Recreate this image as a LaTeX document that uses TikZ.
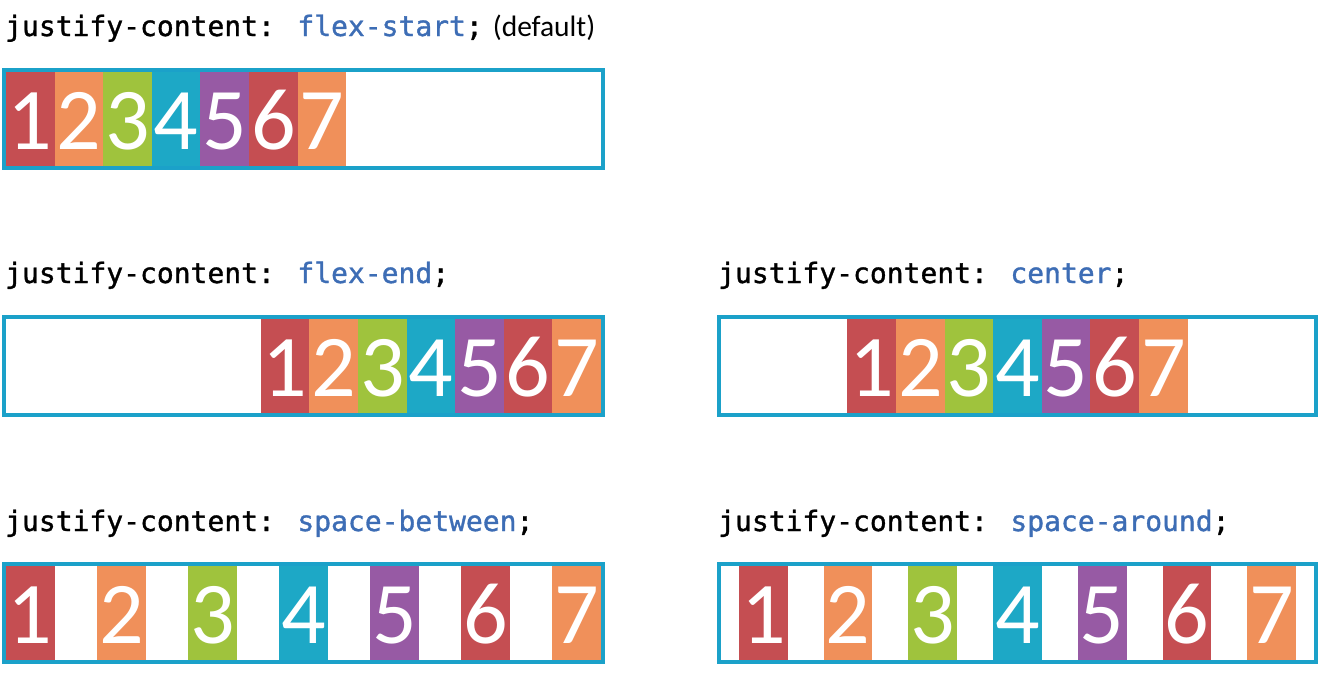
\documentclass[tikz,border=0pt]{standalone}
\usepackage{fontspec}
\newfontfamily\codefont[FakeBold=1.2]{DejaVu Sans Mono}
\newfontfamily\numfont{Carlito}
\definecolor{cRed}{HTML}{C54E52}
\definecolor{cOrange}{HTML}{F0905A}
\definecolor{cGreen}{HTML}{9FC33D}
\definecolor{cTeal}{HTML}{1DA8C6}
\definecolor{cPurple}{HTML}{975AA4}
\definecolor{cBorder}{HTML}{1BA1C9}
\definecolor{cValue}{HTML}{3D6DB5}
\begin{document}
\begin{tikzpicture}[x=1pt,y=-1pt,
  item/.style={anchor=north west, inner sep=0pt, outer sep=0pt,
    minimum width=48.6pt, text height=77pt, text depth=17pt,
    text=white, font=\numfont\fontsize{88}{88}\selectfont},
  flexbox/.style={draw=cBorder, line width=4pt, anchor=north west,
    inner sep=0pt, outer sep=0pt, minimum height=98pt},
  leftbox/.style={flexbox, minimum width=599pt},
  rightbox/.style={flexbox, minimum width=597pt},
  code/.style={anchor=base west, inner sep=0pt,
    font=\codefont\fontsize{28}{28}\selectfont},
  val/.style={text=cValue}]
\useasboundingbox (0,0) rectangle (1321,696);

% titles
\node[code] (t1) at (5,36) {justify-content: \textcolor{cValue}{flex-start};\hspace{10pt}{\numfont\fontsize{29.5}{29.5}\selectfont(default)}};
\node[code] (t2) at (5,283) {justify-content: \textcolor{cValue}{flex-end};};
\node[code] (t3) at (718,283) {justify-content: \textcolor{cValue}{center};};
\node[code] (t4) at (5,531) {justify-content: \textcolor{cValue}{space-between};};
\node[code] (t5) at (718,531) {justify-content: \textcolor{cValue}{space-around};};

% items
\foreach \i/\c in {1/cRed,2/cOrange,3/cGreen,4/cTeal,5/cPurple,6/cRed,7/cOrange} {
  \node[item, fill=\c] (a\i) at ({6+(\i-1)*48.6}, 72) {\i};
  \node[item, fill=\c] (b\i) at ({260.8+(\i-1)*48.6}, 319) {\i};
  \node[item, fill=\c] (c\i) at ({847.4+(\i-1)*48.6}, 319) {\i};
  \node[item, fill=\c] (d\i) at ({6+(\i-1)*91.07}, 566) {\i};
  \node[item, fill=\c] (e\i) at ({739.06+(\i-1)*84.71}, 566) {\i};
}

% containers
\node[leftbox] (box1) at (4,70) {};
\node[leftbox] (box2) at (4,317) {};
\node[rightbox] (box3) at (719,317) {};
\node[leftbox] (box4) at (4,564) {};
\node[rightbox] (box5) at (719,564) {};
\end{tikzpicture}
\end{document}
